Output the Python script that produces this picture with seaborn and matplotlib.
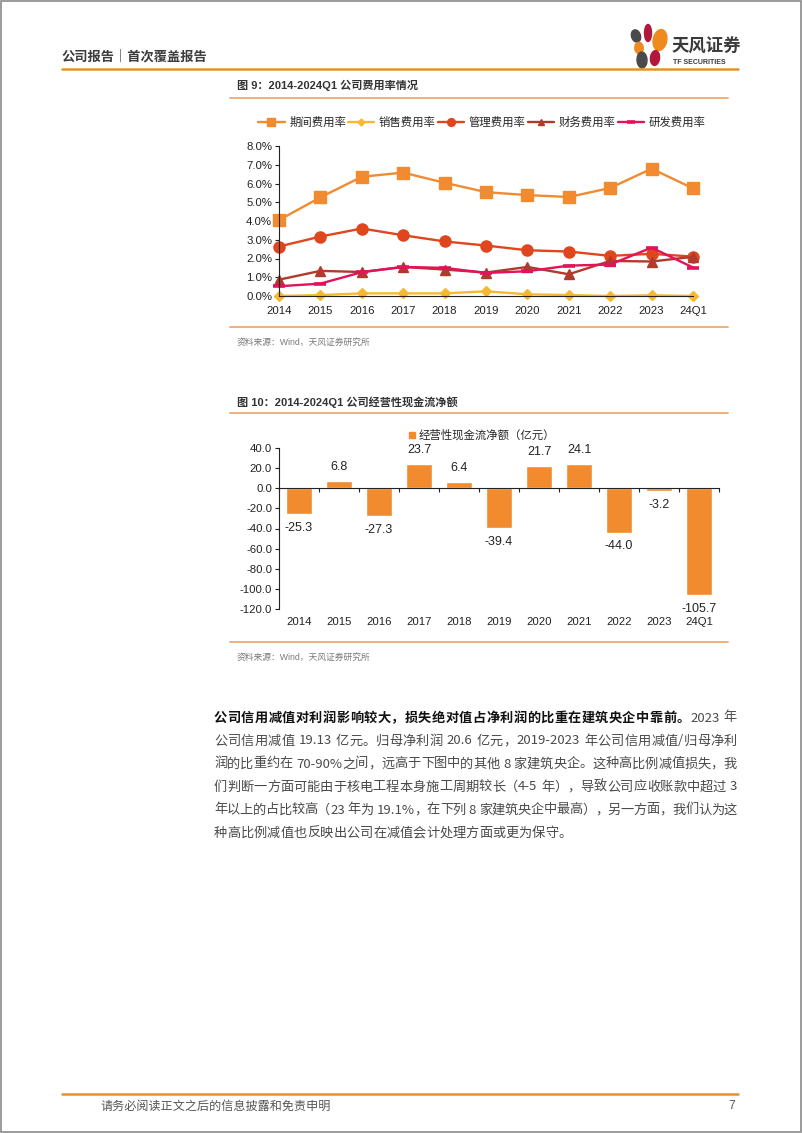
import matplotlib
matplotlib.use("Agg")
import matplotlib.pyplot as plt
import seaborn as sns
import numpy as np
from matplotlib.lines import Line2D
from matplotlib.patches import Ellipse, Rectangle
from matplotlib.transforms import blended_transform_factory

W, H = 802, 1133

years = ["2014", "2015", "2016", "2017", "2018", "2019", "2020", "2021", "2022", "2023", "24Q1"]

# expense ratios, %
period_rate = [4.05, 5.26, 6.36, 6.58, 6.04, 5.54, 5.38, 5.28, 5.76, 6.79, 5.74]
sales_rate = [0.00, 0.05, 0.14, 0.14, 0.14, 0.25, 0.09, 0.05, 0.00, 0.04, 0.00]
admin_rate = [2.64, 3.17, 3.60, 3.24, 2.91, 2.69, 2.44, 2.37, 2.14, 2.25, 2.10]
finance_rate = [0.87, 1.34, 1.28, 1.55, 1.41, 1.25, 1.55, 1.16, 1.87, 1.84, 2.09]
rd_rate = [0.52, 0.66, 1.27, 1.55, 1.50, 1.23, 1.32, 1.62, 1.68, 2.58, 1.52]

# operating cash flow, 亿元
cash_flow = [-25.3, 6.8, -27.3, 23.7, 6.4, -39.4, 21.7, 24.1, -44.0, -3.2, -105.7]

body_lines = [
    [("公司信用减值对利润影响较大，损失绝对值占净利润的比重在建筑央企中靠前。", True), ("2023 年", False)],
    [("公司信用减值 19.13 亿元。归母净利润 20.6 亿元，2019-2023 年公司信用减值/归母净利", False)],
    [("润的比重约在 70-90%之间，远高于下图中的其他 8 家建筑央企。这种高比例减值损失，我", False)],
    [("们判断一方面可能由于核电工程本身施工周期较长（4-5 年），导致公司应收账款中超过 3", False)],
    [("年以上的占比较高（23 年为 19.1%，在下列 8 家建筑央企中最高），另一方面，我们认为这", False)],
    [("种高比例减值也反映出公司在减值会计处理方面或更为保守。", False)],
]

ORANGE = "#F28A2E"
RULE = "#EFB07C"

sns.set_theme(style="white")
plt.rcParams["font.family"] = ["Liberation Sans", "Noto Sans CJK SC", "DejaVu Sans"]
plt.rcParams["axes.unicode_minus"] = False
CJK = ["Noto Sans CJK SC", "DejaVu Sans"]


def rect(l, t, r, b):
    return [l / W, 1 - b / H, (r - l) / W, (b - t) / H]


def hline(y, x0, x1, color, lw):
    fig.add_artist(Line2D([x0 / W, x1 / W], [1 - y / H, 1 - y / H], color=color, lw=lw))


def ftext(x, y, s, **kw):
    return fig.text(x / W, 1 - y / H, s, **kw)


fig = plt.figure(figsize=(W / 100, H / 100), dpi=100)

# page frame
fig.add_artist(Rectangle((0.001, 0.001), 0.998, 0.998, transform=fig.transFigure,
                         fill=False, ec="#8a8a8a", lw=1.2))

# header
ftext(62, 57, "公司报告｜首次覆盖报告", family=CJK, fontsize=9.5, weight="bold",
      color="#3c3c3c", va="center")
hline(69, 62, 738, "#E8912E", 1.8)

# logo
petals = [
    (636, 36, 8, 14, 55, "#4a4a4a"),
    (648, 33, 7, 17, 0, "#B2183A"),
    (660, 40, 13, 22, -35, "#EF8A1E"),
    (639, 48, 8, 12, 70, "#EF8A1E"),
    (642, 60, 10, 16, 10, "#4a4a4a"),
    (655, 58, 9, 15, -20, "#B2183A"),
]
for cx, cy, w, h, ang, col in petals:
    fig.add_artist(Ellipse((cx / W, 1 - cy / H), w / W, h / H, angle=ang,
                           transform=fig.transFigure, color=col))
ftext(672, 47, "天风证券", family=CJK, fontsize=12.5, weight="bold", color="#3a3a3a", va="center")
ftext(673, 62.5, "TF SECURITIES", fontsize=5, weight="bold", color="#3a3a3a", va="center")

# ---------- figure 9 ----------
ftext(237, 85, "图 9：2014-2024Q1 公司费用率情况", fontsize=8, weight="bold",
      color="#333333", va="center")
hline(98, 230, 728, RULE, 1.4)

ax1 = fig.add_axes(rect(279, 146, 693, 296))
x = np.arange(len(years))
series = [
    ("期间费用率", period_rate, "#F28A2F", "s", 8, 1),
    ("销售费用率", sales_rate, "#F7B932", "D", 5, 1),
    ("管理费用率", admin_rate, "#E0461E", "o", 8, 1),
    ("财务费用率", finance_rate, "#B03A2C", "^", 7, 1),
    ("研发费用率", rd_rate, "#E4115B", "_", 8, 2.6),
]
for name, vals, col, mk, ms, mew in series:
    sns.lineplot(x=x, y=vals, ax=ax1, color=col, marker=mk, markersize=ms,
                 markeredgecolor=col, markeredgewidth=mew, linewidth=1.7,
                 label=name, clip_on=False)
handles, labels = ax1.get_legend_handles_labels()
ax1.get_legend().remove()
leg_handles = [Line2D([], [], color=h.get_color(), lw=1.7, marker=h.get_marker(),
                      markersize=h.get_markersize() * 0.7, markeredgewidth=h.get_markeredgewidth())
               for h in handles]
fig.legend(leg_handles, labels, loc="center", bbox_to_anchor=(482 / W, 1 - 122 / H), ncol=5,
           frameon=False, handlelength=2.3, handletextpad=0.4,
           columnspacing=0.2, prop={"family": CJK, "size": 8.2})

ax1.set_xlim(0, 10)
ax1.set_ylim(0, 8)
ax1.set_yticks(range(0, 9))
ax1.set_yticklabels([f"{v:.1f}%" for v in range(0, 9)])
ax1.set_xticks(x)
ax1.set_xticklabels(years)
ax1.tick_params(axis="x", length=0, pad=7, labelsize=8.2, colors="#222222")
ax1.tick_params(axis="y", length=3, width=0.8, pad=2, labelsize=8.2, colors="#222222",
                direction="out", left=True)
for s in ("top", "right"):
    ax1.spines[s].set_visible(False)
for s in ("left", "bottom"):
    ax1.spines[s].set_color("#222222")
    ax1.spines[s].set_linewidth(0.8)
ax1.set_xlabel("")
ax1.set_ylabel("")
ax1.patch.set_alpha(0)

hline(327, 230, 728, RULE, 1.4)
ftext(237, 342, "资料来源：Wind，天风证券研究所", fontsize=6.3, color="#7a7a7a", va="center")

# ---------- figure 10 ----------
ftext(237, 402, "图 10：2014-2024Q1 公司经营性现金流净额", fontsize=8, weight="bold",
      color="#333333", va="center")
hline(413, 230, 728, RULE, 1.4)

ax2 = fig.add_axes(rect(279, 447.7, 719, 609.3))
sns.barplot(x=years, y=cash_flow, color=ORANGE, saturation=1, width=0.63, ax=ax2)
ax2.set_ylim(-120, 40)
yt = list(range(-120, 41, 20))
ax2.set_yticks(yt)
ax2.set_yticklabels([f"{v:.1f}" for v in yt])
ax2.tick_params(axis="y", length=3, width=0.8, pad=2, labelsize=8.2, colors="#222222",
                direction="out", left=True)
ax2.spines["bottom"].set_position(("data", 0))
for s in ("top", "right"):
    ax2.spines[s].set_visible(False)
for s in ("left", "bottom"):
    ax2.spines[s].set_color("#222222")
    ax2.spines[s].set_linewidth(0.8)
ax2.set_xlim(-0.5, len(years) - 0.5)
ax2.set_xticks(np.arange(-0.5, len(years), 1.0))
ax2.set_xticklabels([])
ax2.tick_params(axis="x", length=3, width=0.8, direction="out", bottom=True, colors="#222222")
ax2.set_xlabel("")
ax2.set_ylabel("")
trans = blended_transform_factory(ax2.transData, ax2.transAxes)
for i, lab in enumerate(years):
    ax2.text(i, -0.08, lab, transform=trans, ha="center", va="center", fontsize=8.2,
             color="#222222")
for i, v in enumerate(cash_flow):
    ax2.annotate(f"{v:.1f}", (i, v), xytext=(0, 10 if v > 0 else -10),
                 textcoords="offset points", ha="center", va="center", fontsize=9,
                 color="#222222")
ax2.patch.set_alpha(0)
fig.legend([Line2D([], [], marker="s", ls="", color=ORANGE, markersize=4.5)],
           ["经营性现金流净额（亿元）"], loc="center", bbox_to_anchor=(482 / W, 1 - 435 / H),
           frameon=False, handlelength=0.6, handletextpad=0.3,
           prop={"family": CJK, "size": 8.2})

hline(642, 230, 728, RULE, 1.4)
ftext(237, 657, "资料来源：Wind，天风证券研究所", fontsize=6.3, color="#7a7a7a", va="center")

# ---------- body text (justified) ----------
renderer = fig.canvas.get_renderer()
BODY_SIZE = 9.5
SPACE = 3.5


def tokens_of(segs):
    out = []
    for text, bold in segs:
        buf = ""
        for ch in text:
            if ch == " ":
                if buf:
                    out.append((buf, bold))
                    buf = ""
                out.append((" ", bold))
            elif ord(ch) < 128:
                buf += ch
            else:
                if buf:
                    out.append((buf, bold))
                    buf = ""
                out.append((ch, bold))
        if buf:
            out.append((buf, bold))
    return out


def draw_line(segs, y, x0, x1, justify):
    toks = tokens_of(segs)
    items = []
    for tok, bold in toks:
        if tok == " ":
            items.append((None, SPACE))
            continue
        t = ftext(0, y, tok, family=CJK, fontsize=BODY_SIZE,
                  weight="bold" if bold else "normal",
                  color="#111111" if bold else "#4a4a4a", va="center")
        items.append((t, t.get_window_extent(renderer).width))
    total = sum(w for _, w in items)
    extra = (x1 - x0 - total) / (len(items) - 1) if justify and len(items) > 1 else 0
    cx = x0
    for t, w in items:
        if t is not None:
            t.set_x(cx / W)
        cx += w + extra


for i, segs in enumerate(body_lines):
    draw_line(segs, 718 + 23 * i, 214, 737, i < len(body_lines) - 1)

# footer
hline(1094, 62, 738, "#E8912E", 1.8)
ftext(100, 1106, "请务必阅读正文之后的信息披露和免责申明", family=CJK, fontsize=8.7,
      color="#555555", va="center")
ftext(735, 1106, "7", fontsize=8.7, color="#555555", va="center", ha="right")

fig.savefig("out.png", dpi=100)
